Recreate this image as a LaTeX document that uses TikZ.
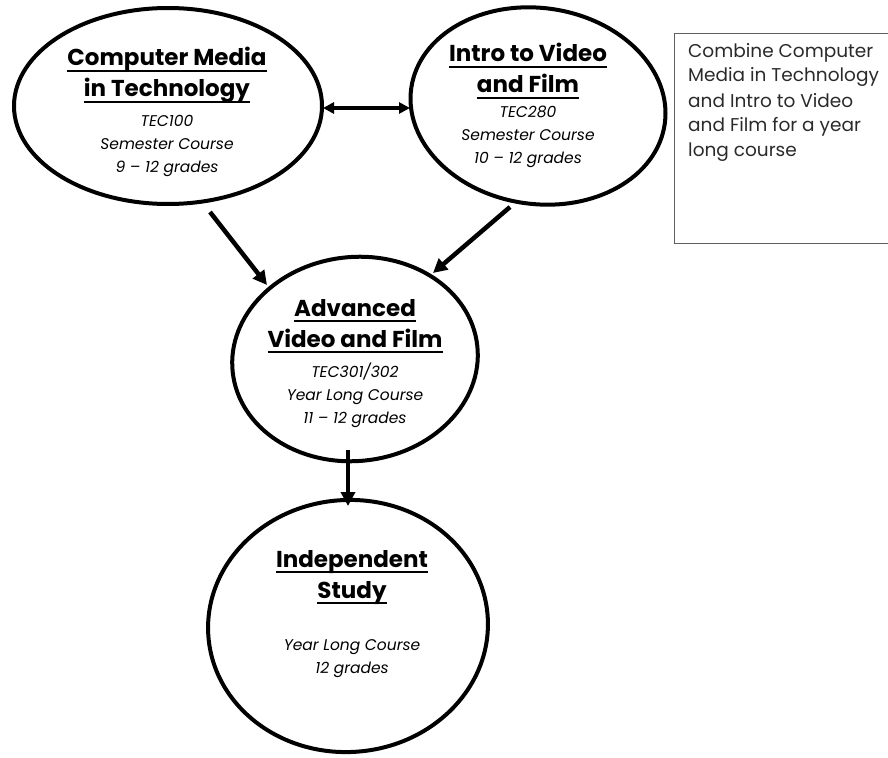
\documentclass[tikz,border=0pt]{standalone}
\usepackage{fontspec}
\setmainfont{Poppins}
\usetikzlibrary{shapes.geometric,arrows.meta}
\newsavebox\hdlbox
\newcommand\hdl[1]{\sbox\hdlbox{#1}\rlap{\rule[-6pt]{\wd\hdlbox}{2pt}}\usebox\hdlbox}
\definecolor{boxtext}{HTML}{2A2A2A}
\definecolor{boxline}{HTML}{606060}
\tikzset{
  ell/.style={draw, ellipse, line width=4pt, inner sep=0pt},
  head/.style={font=\fontsize{23}{31}\selectfont\bfseries, align=center, anchor=base, inner sep=0pt},
  det/.style={font=\fontsize{15.5}{23}\selectfont\itshape, align=center, anchor=base, inner sep=0pt},
  arr/.style={line width=4.5pt, -{Triangle[length=14pt,width=14pt]}},
  darr/.style={line width=3.5pt, {Triangle[length=11pt,width=11pt]}-{Triangle[length=11pt,width=11pt]}},
  notebox/.style={draw=boxline, line width=1.3pt, anchor=north west, minimum width=240pt, minimum height=210pt, inner sep=0pt},
  notetext/.style={font=\fontsize{18.5}{25}\selectfont, text=boxtext, align=left, anchor=base west, inner sep=0pt}
}
\begin{document}
\begin{tikzpicture}[x=1pt,y=-1pt]
\useasboundingbox (0,0) rectangle (888,757);
% ellipses
\node[ell, minimum width=308pt, minimum height=196pt] (cm) at (168,106) {};
\node[ell, minimum width=256pt, minimum height=196pt, rotate=-8] (iv) at (538,106) {};
\node[ell, minimum width=246pt, minimum height=204pt, rotate=6] (adv) at (355,359) {};
\node[ell, minimum width=280pt, minimum height=252pt, rotate=4] (ind) at (348,626) {};
% texts (anchored at the baseline of the last line)
\node[head] (cmh) at (167,97) {\hdl{Computer Media}\\\hdl{in Technology}};
\node[det] (cmd) at (167,172) {TEC100\\Semester Course\\9 – 12 grades};
\node[head] (ivh) at (528,93) {\hdl{Intro to Video}\\\hdl{and Film}};
\node[det] (ivd) at (528,163) {TEC280\\Semester Course\\10 – 12 grades};
\node[head] (advh) at (355,347) {\hdl{Advanced}\\\hdl{Video and Film}};
\node[det] (advd) at (355,423) {TEC301/302\\Year Long Course\\11 – 12 grades};
\node[head] (indh) at (352,598) {\hdl{Independent}\\\hdl{Study}};
\node[det] (indd) at (352,673) {Year Long Course\\12 grades};
% note
\node[notebox] (note) at (674,33) {};
\node[notetext] (notet) at (688,157) {Combine Computer\\Media in Technology\\and Intro to Video\\and Film for a year\\long course};
% connectors
\coordinate (d1) at (323,108);
\coordinate (d2) at (410,108);
\coordinate (a1s) at (210,212);
\coordinate (a1e) at (267,285);
\coordinate (a2s) at (510,207);
\coordinate (a2e) at (433,273);
\coordinate (a3s) at (348,450);
\coordinate (a3e) at (348,506);
\draw[darr] (d1) -- (d2);
\draw[arr] (a1s) -- (a1e);
\draw[arr] (a2s) -- (a2e);
\draw[arr] (a3s) -- (a3e);
\end{tikzpicture}
\end{document}
